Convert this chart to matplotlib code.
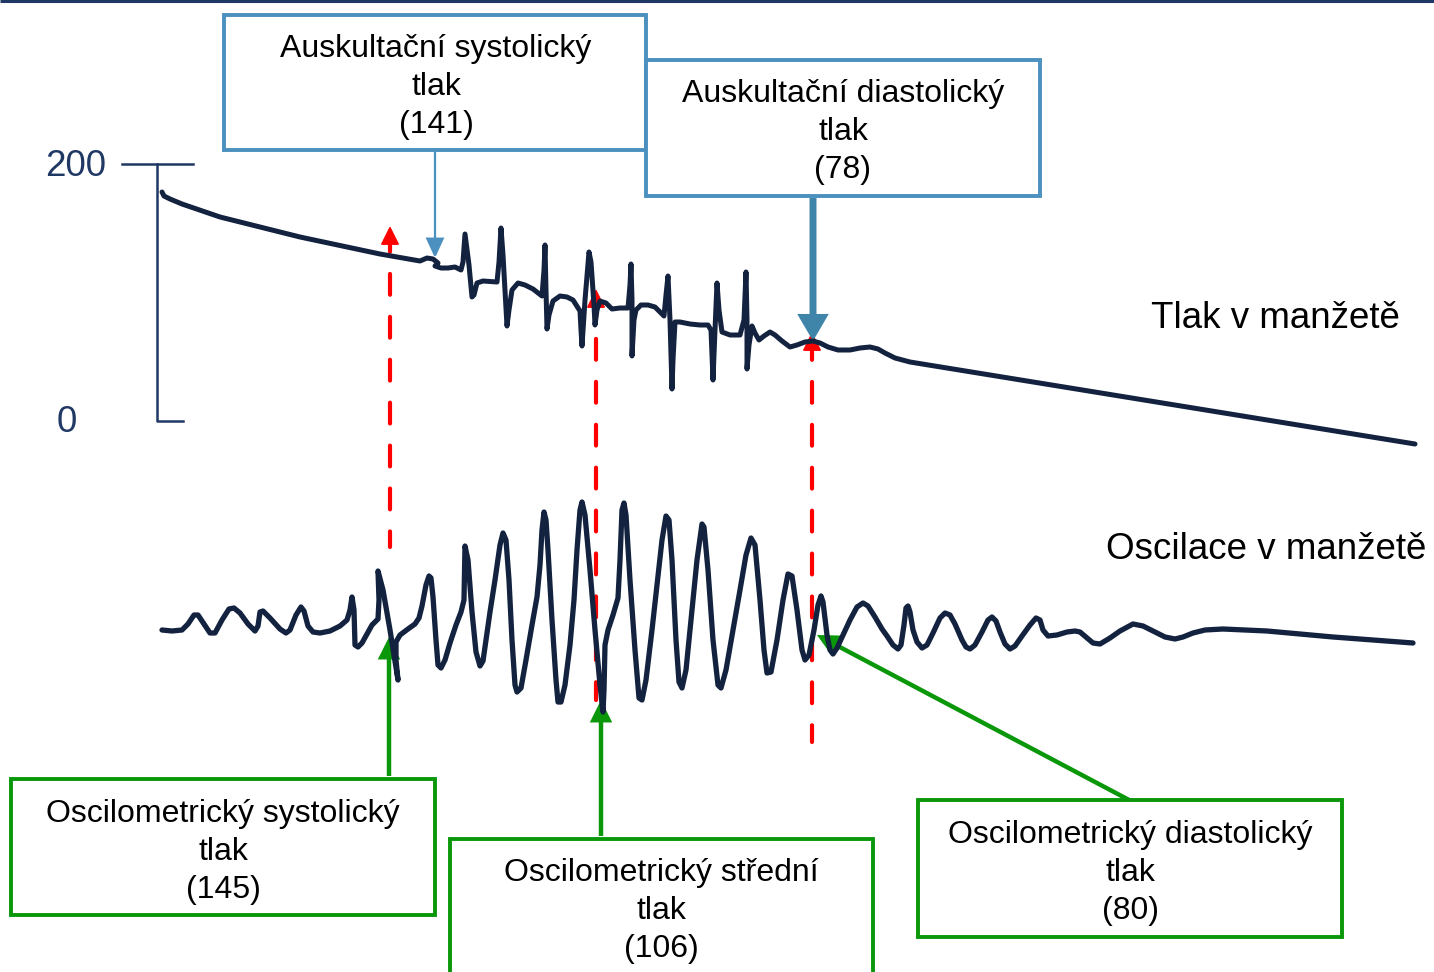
import matplotlib
matplotlib.use("Agg")
import matplotlib.pyplot as plt
from matplotlib.patches import Rectangle, FancyArrowPatch, ArrowStyle

plt.rcParams['font.family'] = ['Liberation Sans', 'DejaVu Sans']

# cuff pressure trace (pixel units, y grows down)
pressure_pts = [(162, 192), (164, 196), (170, 199), (182, 204), (220, 217), (300, 237), (380, 254),
                (420, 261), (427, 258), (433, 259), (438, 263), (435, 266), (441, 268), (448, 268),
                (455, 267), (461, 270), (463, 262), (465, 234), (469, 265), (472, 297), (474, 295),
                (477, 283), (483, 281), (497, 282), (499, 262), (501, 228), (503, 255), (507, 326),
                (509, 310), (512, 290), (518, 283), (525, 285), (533, 289), (542, 296), (544, 270),
                (545, 245), (546, 290), (547, 329), (549, 315), (553, 301), (560, 296), (567, 297),
                (573, 300), (580, 311), (581, 330), (582, 346), (585, 300), (589, 252), (591, 262),
                (594, 305), (595, 325), (597, 310), (600, 301), (606, 303), (612, 309), (620, 308),
                (628, 308), (630, 285), (631, 264), (632, 300), (632, 356), (634, 320), (636, 310),
                (641, 305), (648, 305), (655, 307), (664, 316), (666, 295), (668, 276), (670, 320),
                (672, 389), (673, 360), (675, 322), (680, 322), (690, 324), (700, 325), (708, 325),
                (711, 330), (713, 380), (715, 330), (717, 283), (719, 310), (722, 332), (730, 335),
                (740, 335), (744, 320), (746, 272), (747, 320), (747, 369), (749, 345), (752, 326),
                (755, 333), (759, 340), (764, 336), (770, 332), (775, 335), (782, 341), (790, 347),
                (797, 345), (805, 342), (813, 341), (820, 343), (828, 347), (838, 350), (850, 350),
                (860, 348), (870, 347), (878, 349), (885, 353), (895, 358), (910, 362), (1415, 444)]

# cuff oscillation trace
osc_pts = [(162, 630), (172, 631), (182, 630), (188, 624), (194, 615), (198, 615), (204, 624), (210, 633),
           (215, 633), (222, 620), (229, 609), (234, 608), (240, 613), (248, 624), (255, 631), (258, 626),
           (260, 612), (263, 611), (270, 618), (280, 629), (286, 633), (290, 630), (296, 615), (301, 607),
           (304, 611), (308, 626), (313, 632), (320, 633), (330, 631), (340, 626), (347, 620), (350, 610),
           (352, 597), (354, 610), (355, 645), (358, 647), (362, 643), (367, 634), (372, 625), (378, 619),
           (379, 600), (378, 571), (383, 590), (390, 630), (398, 680), (396, 660), (396, 642), (400, 635),
           (408, 629), (415, 624), (419, 618), (422, 606), (426, 585), (429, 576), (431, 578), (433, 597),
           (436, 640), (438, 665), (441, 668), (445, 660), (450, 643), (456, 625), (461, 612), (464, 600),
           (465, 546), (468, 560), (472, 612), (476, 652), (480, 666), (483, 661), (486, 640), (490, 612),
           (495, 580), (500, 545), (503, 533), (506, 540), (509, 580), (512, 640), (515, 685), (517, 692),
           (521, 688), (526, 660), (532, 625), (537, 597), (540, 565), (542, 530), (544, 512), (546, 520),
           (548, 550), (552, 620), (556, 680), (558, 702), (561, 702), (565, 685), (570, 645), (574, 600),
           (577, 550), (580, 510), (582, 502), (585, 515), (590, 570), (595, 630), (600, 685), (603, 712),
           (604, 690), (605, 645), (608, 630), (613, 615), (618, 598), (620, 560), (622, 510), (624, 503),
           (626, 515), (630, 580), (635, 650), (639, 698), (642, 700), (646, 680), (652, 630), (657, 585),
           (662, 540), (666, 516), (669, 520), (672, 560), (676, 640), (679, 682), (682, 688), (686, 670),
           (692, 610), (697, 560), (702, 524), (704, 527), (708, 570), (713, 640), (718, 685), (721, 688),
           (726, 670), (733, 630), (740, 590), (746, 555), (751, 538), (755, 545), (760, 600), (764, 650),
           (767, 673), (771, 672), (777, 640), (783, 600), (788, 574), (792, 576), (797, 610), (802, 650),
           (805, 660), (809, 655), (814, 630), (818, 605), (821, 596), (823, 602), (827, 635), (830, 650),
           (833, 654), (837, 648), (843, 635), (850, 620), (857, 607), (863, 603), (868, 606), (875, 617),
           (882, 629), (887, 636), (893, 645), (898, 649), (901, 645), (904, 625), (906, 608), (908, 606),
           (910, 612), (913, 630), (917, 642), (922, 648), (927, 645), (933, 633), (940, 618), (945, 613),
           (950, 615), (955, 624), (962, 640), (966, 647), (970, 649), (975, 645), (982, 632), (988, 620),
           (992, 617), (996, 621), (1000, 632), (1005, 644), (1010, 649), (1015, 646), (1022, 636),
           (1030, 625), (1036, 618), (1040, 620), (1043, 630), (1048, 636), (1057, 635), (1067, 632),
           (1075, 631), (1080, 632), (1087, 638), (1093, 643), (1100, 644), (1110, 638), (1120, 631),
           (1133, 624), (1143, 626), (1155, 632), (1165, 637), (1175, 639), (1183, 637), (1193, 633),
           (1205, 630), (1223, 629), (1267, 631), (1333, 637), (1413, 643)]

# scale bar labels
scale_labels = ["200", "0"]

# label boxes
box_lines = [["Auskultační systolický", "tlak", "(141)"],
             ["Auskultační diastolický", "tlak", "(78)"],
             ["Oscilometrický systolický", "tlak", "(145)"],
             ["Oscilometrický střední", "tlak", "(106)"],
             ["Oscilometrický diastolický", "tlak", "(80)"]]
trace_names = ["Tlak v manžetě", "Oscilace v manžetě"]

navy = '#13223f'
axis_col = '#1f3864'
blue = '#4b90bf'
blue_dark = '#3f84a9'
green = '#0a970a'
red = '#ff0000'

fig = plt.figure(figsize=(14.34, 9.72), dpi=100)
ax = fig.add_axes([0, 0, 1, 1])
ax.set_xlim(0, 1434)
ax.set_ylim(972, 0)
ax.axis('off')

# thin bar along the top edge
ax.plot([0, 1434], [1.3, 1.3], color=axis_col, lw=2.2, solid_capstyle='butt')

# scale bar
ax.plot([122, 193], [164, 164], color=axis_col, lw=1.8)
ax.plot([157, 157, 183], [164, 421, 421], color=axis_col, lw=1.8)
for lab, yb, xc in zip(scale_labels, [176, 432], [76, 67]):
    ax.text(xc, yb, lab, fontsize=26.5, color=axis_col, ha='center', va='baseline')


def arrow(p0, p1, col, lw, hl, hw, z=3):
    a = FancyArrowPatch(p0, p1, arrowstyle=ArrowStyle('-|>', head_length=hl, head_width=hw),
                        mutation_scale=1, color=col, lw=lw, shrinkA=0, shrinkB=0,
                        joinstyle='miter', capstyle='butt', zorder=z)
    ax.add_patch(a)


# red dashed markers (top of dashes, bottom of dashes, arrow tip)
red_x = [390, 596, 812]
red_top = [231, 296, 339]
red_bot = [547, 700, 742]
red_tip = [226, 289, 332]
for x, t, b, tip in zip(red_x, red_top, red_bot, red_tip):
    ax.plot([x, x], [t, b], color=red, lw=3.0, dashes=(5.0, 5.3), dash_capstyle='round', zorder=2)
    arrow((x, tip + 22), (x, tip), red, 1.0, 12, 6, z=2)

# blue arrows from auscultatory boxes
arrow((435, 151), (435, 258), blue, 1.6, 12, 5.5)
arrow((813, 198), (813, 341), blue_dark, 5.0, 12, 7)

# green arrows from oscillometric boxes
arrow((389, 776), (389, 637), green, 3.2, 11, 5.5)
arrow((601, 836), (601, 700), green, 3.2, 11, 5.5)
arrow((1131, 801), (817, 635), green, 3.2, 11, 5.5)

# traces
ax.plot([p[0] for p in pressure_pts], [p[1] for p in pressure_pts], color=navy, lw=3.6,
        solid_joinstyle='round', solid_capstyle='round', zorder=5)
ax.plot([p[0] for p in osc_pts], [p[1] for p in osc_pts], color=navy, lw=3.8,
        solid_joinstyle='round', solid_capstyle='round', zorder=5)

# boxes: left, top, right, bottom, edge colour, centre x, first baseline
box_pos = [(224, 15, 646, 150, blue, 436, 57),
           (646, 60, 1040, 196, blue, 843, 102),
           (11, 779, 435, 915, green, 223, 822),
           (450, 839, 873, 995, green, 661, 881),
           (918, 800, 1342, 937, green, 1130, 843)]
for lines, (x0, y0, x1, y1, ec, xc, yb) in zip(box_lines, box_pos):
    ax.add_patch(Rectangle((x0, y0), x1 - x0, y1 - y0, facecolor='white', edgecolor=ec,
                           lw=2.8, joinstyle='miter', zorder=6))
    for i, s in enumerate(lines):
        ax.text(xc, yb + 38 * i, s, fontsize=23, ha='center', va='baseline', zorder=7)

ax.text(1275, 328, trace_names[0], fontsize=26.5, ha='center', va='baseline')
ax.text(1266, 559, trace_names[1], fontsize=26.5, ha='center', va='baseline')

fig.savefig('out.png', dpi=100)
